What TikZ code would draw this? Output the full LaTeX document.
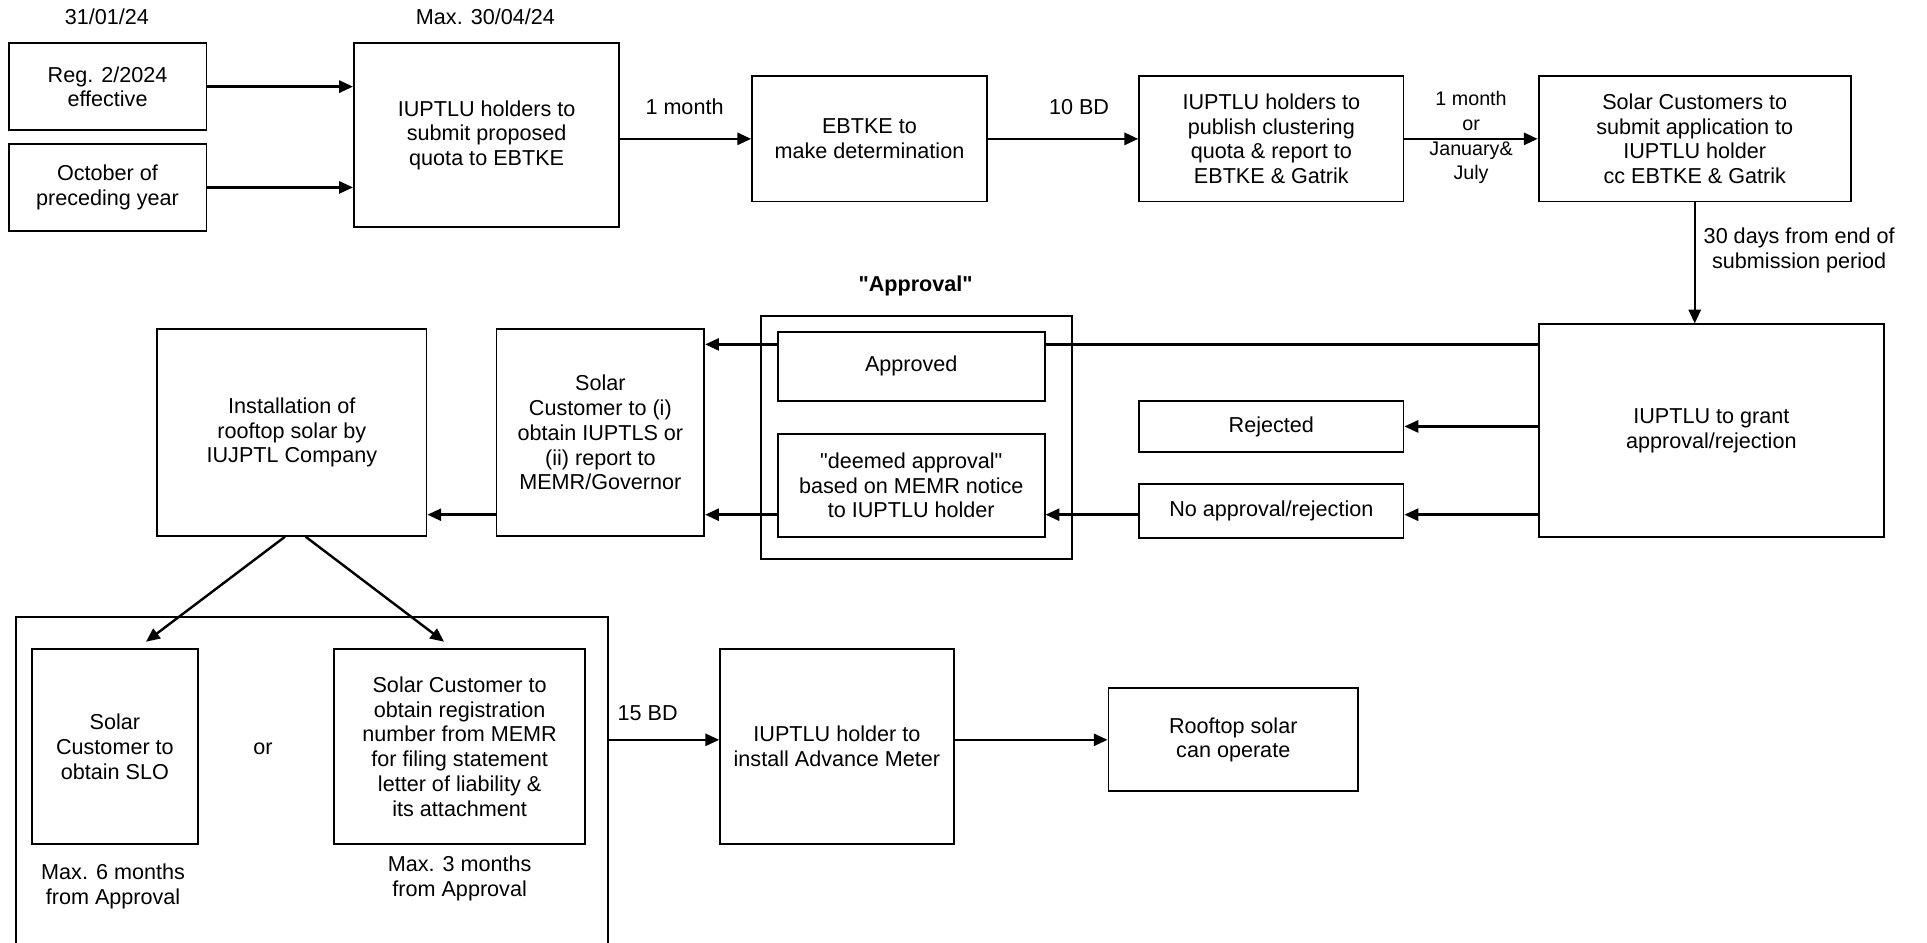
\documentclass[tikz,border=0pt]{standalone}
\usepackage{fontspec}
\setmainfont{Liberation Sans}
\usetikzlibrary{arrows.meta,backgrounds}

\begin{document}
\begin{tikzpicture}[x=0.025cm, y=-0.025cm,
  font=\fontsize{12.5}{14.3}\selectfont,
  box/.style={draw, line width=1.1pt, fill=white, align=center, inner sep=0pt},
  frame/.style={draw, line width=1.1pt, inner sep=0pt},
  sz/.style 2 args={minimum width=#1*0.025cm, minimum height=#2*0.025cm},
  arr/.style={-{Triangle[length=8pt,width=7pt]}, line width=1.4pt},
  lbl/.style={align=center, inner sep=0pt}]
\useasboundingbox (0,0) rectangle (1568,767);

% top row
\node[box, sz={161}{71}] (reg) at (87.5,70.5) {Reg. 2/2024\\effective};
\node[box, sz={161}{71}] (oct) at (87.5,152.5) {October of\\preceding year};
\node[box, sz={216}{150}] (hold) at (396,110) {IUPTLU holders to\\submit proposed\\quota to EBTKE};
\node[box, sz={191}{102}] (ebtke) at (707.5,113) {EBTKE to\\make determination};
\node[box, sz={215}{102}] (pub) at (1034.5,113) {IUPTLU holders to\\publish clustering\\quota \& report to\\EBTKE \& Gatrik};
\node[box, sz={254}{102}] (cust) at (1379,113) {Solar Customers to\\submit application to\\IUPTLU holder\\cc EBTKE \& Gatrik};

% middle row
\node[box, sz={281}{173}] (grant) at (1392.5,350.5) {IUPTLU to grant\\approval/rejection};
\node[frame, sz={253}{198}] (apr) at (745.5,356) {};
\node[box, sz={217}{56}] (appr) at (741.5,298) {Approved};
\node[box, sz={217}{84}] (deem) at (741.5,395) {\textquotedbl deemed approval\textquotedbl\\based on MEMR notice\\to IUPTLU holder};
\node[box, sz={215}{42}] (rej) at (1034.5,347) {Rejected};
\node[box, sz={215}{44}] (noap) at (1034.5,416) {No approval/rejection};
\node[box, sz={169}{168}] (sc) at (488.5,352) {Solar\\Customer to (i)\\obtain IUPTLS or\\(ii) report to\\MEMR/Governor};
\node[box, sz={219}{168}] (inst) at (237.5,352) {Installation of\\rooftop solar by\\IUJPTL Company};

% bottom row
\node[frame, sz={482}{300}] (grp) at (254,652) {};
\node[box, sz={135}{159}] (slo) at (93.5,607.5) {Solar\\Customer to\\obtain SLO};
\node[box, sz={204}{159}] (regn) at (374,607.5) {Solar Customer to\\obtain registration\\number from MEMR\\for filing statement\\letter of liability \&\\its attachment};
\node[box, sz={190}{159}] (meter) at (681,607.5) {IUPTLU holder to\\install Advance Meter};
\node[box, sz={203}{84}] (roof) at (1003.5,602) {Rooftop solar\\can operate};

% labels
\node[lbl] (d1) at (87,14) {31/01/24};
\node[lbl] (d2) at (395,14) {Max. 30/04/24};
\node[lbl] (t1) at (557,87) {1 month};
\node[lbl] (t2) at (878,87) {10 BD};
\node[lbl, font=\fontsize{11.4}{14.2}\selectfont] (t3) at (1197,112) {1 month\\or\\January\&\\July};
\node[lbl] (t4) at (1464,204) {30 days from end of\\submission period};
\node[lbl] (t5) at (745,233) {\bfseries\textquotedbl Approval\textquotedbl};
\node[lbl] (t6) at (214,609) {or};
\node[lbl] (t7) at (92,721) {Max. 6 months\\from Approval};
\node[lbl] (t8) at (374,715) {Max. 3 months\\from Approval};
\node[lbl] (t9) at (527,580) {15 BD};

\coordinate (gA) at ([yshift=-12.1pt]grant.north west);
\coordinate (gB) at ([yshift=-2pt]noap.west);

% connectors
\begin{pgfonlayer}{background}
\draw[arr] (gA) -- (gA -| sc.east);
\end{pgfonlayer}
\draw[arr] (reg.east) -- (reg.east -| hold.west);
\draw[arr] (oct.east) -- (oct.east -| hold.west);
\draw[arr] (hold.east |- ebtke.west) -- (ebtke.west);
\draw[arr] (ebtke.east) -- (pub.west);
\draw[arr] (pub.east) -- (cust.west);
\draw[arr] (cust.south) -- (cust.south |- grant.north);
\draw[arr] (grant.west |- rej.east) -- (rej.east);
\draw[arr] (gB -| grant.west) -- (gB -| noap.east);
\draw[arr] (gB) -- (gB -| deem.east);
\draw[arr] (gB -| deem.west) -- (gB -| sc.east);
\draw[arr] (gB -| sc.west) -- (gB -| inst.east);
\draw[arr] ([xshift=-4pt]inst.south) -- ([xshift=18pt,yshift=3.6pt]slo.north);
\draw[arr] ([xshift=8pt]inst.south) -- ([xshift=-9pt,yshift=3.6pt]regn.north);
\draw[arr] (grp.east |- roof.west) -- (roof.west -| meter.west);
\draw[arr] (meter.east |- roof.west) -- (roof.west);
\end{tikzpicture}
\end{document}
